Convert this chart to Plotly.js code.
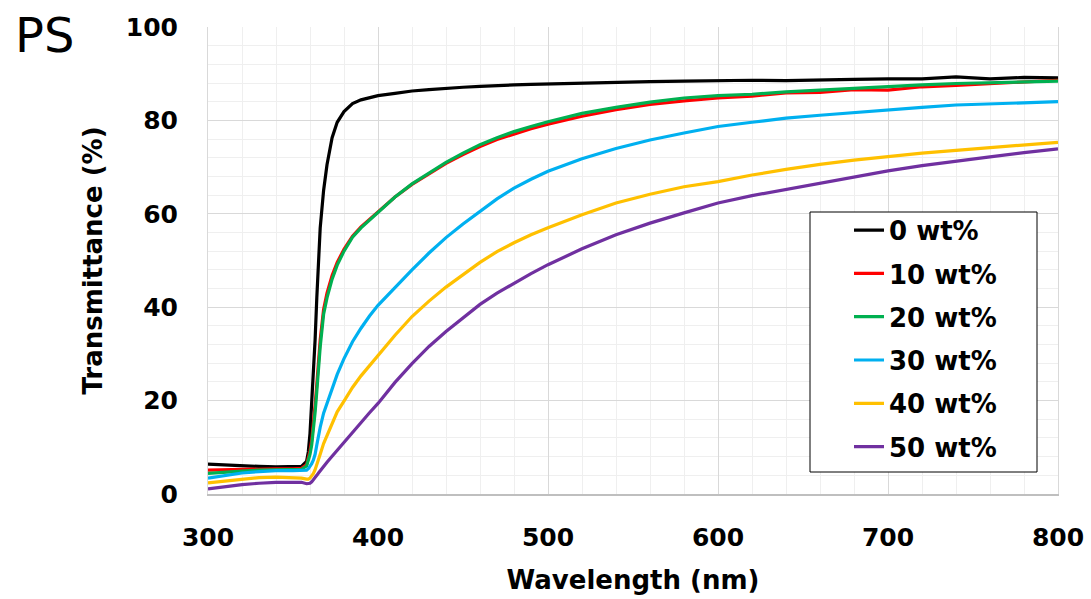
<!DOCTYPE html>
<html>
<head>
<meta charset="utf-8">
<script src="https://cdn.plot.ly/plotly-3.0.1.min.js"></script>
<style>
html,body{margin:0;padding:0;background:#fff;}
#chart{width:1091px;height:599px;}
</style>
</head>
<body>
<div id="chart"></div>
<script>
// Wavelength (nm)
const wavelength = [300,310,320,330,340,350,355,358,359,360,361,362,363,364,365,366,368,370,373,376,380,385,390,395,400,410,420,430,440,450,460,470,480,490,500,520,540,560,580,600,620,640,660,680,700,720,740,760,780,800];

// Transmittance (%)
const t0 = [6.4,6.2,6.0,5.9,5.8,5.8,5.9,7.0,9.0,13,19,26,33,42,50,57,65,70.5,76.3,79.6,81.9,83.6,84.4,84.9,85.3,85.8,86.3,86.6,86.9,87.1,87.3,87.5,87.6,87.7,87.8,88.0,88.2,88.3,88.4,88.5,88.6,88.5,88.7,88.8,88.9,88.9,89.3,88.9,89.2,89.1];
const t10 = [5.1,5.2,5.3,5.4,5.4,5.4,5.5,6.3,7.5,9.2,11.5,14.8,19,23.5,28.5,33,39.5,43,46.8,49.6,52.4,55.2,57.2,58.8,60.3,63.6,66.3,68.6,70.8,72.7,74.4,75.9,77.1,78.2,79.2,80.9,82.3,83.4,84.2,84.8,85.2,85.9,86.0,86.6,86.5,87.2,87.5,87.9,88.2,88.6];
const t20 = [4.4,4.7,4.9,5.1,5.2,5.3,5.3,6.0,7.0,8.5,10.5,13.5,17.5,22,27,31.5,38.5,42,46,49,52,55,57,58.7,60.2,63.6,66.4,68.8,71,73,74.8,76.3,77.6,78.7,79.7,81.5,82.8,83.9,84.8,85.3,85.6,86.1,86.5,86.9,87.3,87.6,87.9,88.1,88.3,88.4];
const t30 = [3.4,4.0,4.5,4.8,5.0,5.0,5.0,5.1,5.4,5.9,6.5,7.3,8.5,10.5,12.6,14.3,17.3,19.5,22.8,25.6,29.0,32.6,35.5,38.1,40.4,44.3,48.0,51.6,54.9,57.8,60.6,63.2,65.5,67.4,69.1,71.8,74.0,75.8,77.3,78.7,79.6,80.5,81.1,81.7,82.3,82.8,83.3,83.5,83.7,84.0];
const t40 = [2.4,2.8,3.2,3.5,3.6,3.5,3.4,3.2,3.2,3.4,3.8,4.4,5.2,6.2,7.4,8.5,10.8,12.6,15.2,17.6,19.9,22.8,25.3,27.5,29.5,34.0,38.0,41.3,44.3,47.0,49.6,51.9,53.8,55.5,57.0,59.8,62.3,64.2,65.8,66.9,68.3,69.5,70.6,71.5,72.3,73.0,73.6,74.2,74.7,75.3];
const t50 = [1.1,1.6,2.0,2.3,2.5,2.5,2.5,2.2,2.2,2.3,2.6,3.0,3.5,4.0,4.5,5.0,5.9,6.8,8.1,9.4,11.0,13.2,15.3,17.4,19.4,23.9,27.9,31.6,34.8,37.8,40.6,43.0,45.2,47.2,49.1,52.5,55.5,58.0,60.2,62.3,63.9,65.2,66.6,67.9,69.2,70.3,71.3,72.2,73.1,73.9];

const seriesNames = ['0 wt%','10 wt%','20 wt%','30 wt%','40 wt%','50 wt%'];
const seriesColors = ['#000000','#ff0000','#00b050','#00b0f0','#ffc000','#7030a0'];
const seriesValues = [t0,t10,t20,t30,t40,t50];

const xTickVals = [300,400,500,600,700,800];
const yTickVals = [0,20,40,60,80,100];

const FONT = 'DejaVu Sans, Verdana, sans-serif';

const traces = seriesValues.map((vals, i) => ({
  type: 'scatter',
  mode: 'lines',
  x: wavelength,
  y: vals,
  name: seriesNames[i],
  legendgroup: 'g' + i,
  line: {color: seriesColors[i], width: 3.2},
  hoverinfo: 'x+y+name'
}));

const layout = {
  width: 1091,
  height: 599,
  paper_bgcolor: '#ffffff',
  plot_bgcolor: '#ffffff',
  margin: {l: 208, r: 33, t: 27, b: 105, autoexpand: false},
  showlegend: true,
  title: {
    text: 'PS',
    font: {family: FONT, size: 48, color: '#000000'},
    x: 15 / 1091, xref: 'container', xanchor: 'left',
    y: 1 - 18 / 599, yref: 'container', yanchor: 'top'
  },
  xaxis: {
    range: [300, 800],
    tickvals: xTickVals,
    ticktext: xTickVals.map(String),
    tickfont: {family: FONT, size: 25, color: '#000000', weight: 'bold'},
    ticklabelstandoff: 20,
    ticks: '',
    showgrid: true,
    gridcolor: '#d9d9d9',
    gridwidth: 1,
    minor: {dtick: 20, showgrid: true, gridcolor: '#efefef', gridwidth: 1, ticks: ''},
    showline: true,
    linecolor: '#bfbfbf',
    linewidth: 2,
    zeroline: false,
    automargin: false,
    title: {
      text: 'Wavelength (nm)',
      font: {family: FONT, size: 26, color: '#000000', weight: 'bold'},
      standoff: 20
    }
  },
  yaxis: {
    range: [0, 100],
    tickvals: yTickVals,
    ticktext: yTickVals.map(String),
    tickfont: {family: FONT, size: 25, color: '#000000', weight: 'bold'},
    ticklabelstandoff: 24,
    ticks: '',
    showgrid: true,
    gridcolor: '#d9d9d9',
    gridwidth: 1,
    minor: {dtick: 4, showgrid: true, gridcolor: '#efefef', gridwidth: 1, ticks: ''},
    showline: true,
    linecolor: '#d9d9d9',
    linewidth: 1,
    mirror: true,
    zeroline: false,
    automargin: false,
    title: {
      text: 'Transmittance (%)',
      font: {family: FONT, size: 26, color: '#000000', weight: 'bold'},
      standoff: 15
    }
  },
  shapes: [{
    type: 'rect', xref: 'paper', yref: 'paper',
    x0: (810 - 208) / 850, x1: (1037 - 208) / 850,
    y0: (494 - 472) / 467, y1: (494 - 212) / 467,
    line: {color: '#000000', width: 1},
    fillcolor: '#ffffff',
    layer: 'above'
  }],
  legend: {
    x: (849 - 208) / 850,
    xanchor: 'left',
    y: (494 - 206.7) / 467,
    yanchor: 'top',
    bgcolor: 'rgba(0,0,0,0)',
    borderwidth: 0,
    font: {family: FONT, size: 26, color: '#000000', weight: 'bold'},
    tracegroupgap: 6.5,
    itemclick: false,
    itemdoubleclick: false
  }
};

Plotly.newPlot('chart', traces, layout, {displayModeBar: false, staticPlot: true});
</script>
</body>
</html>
